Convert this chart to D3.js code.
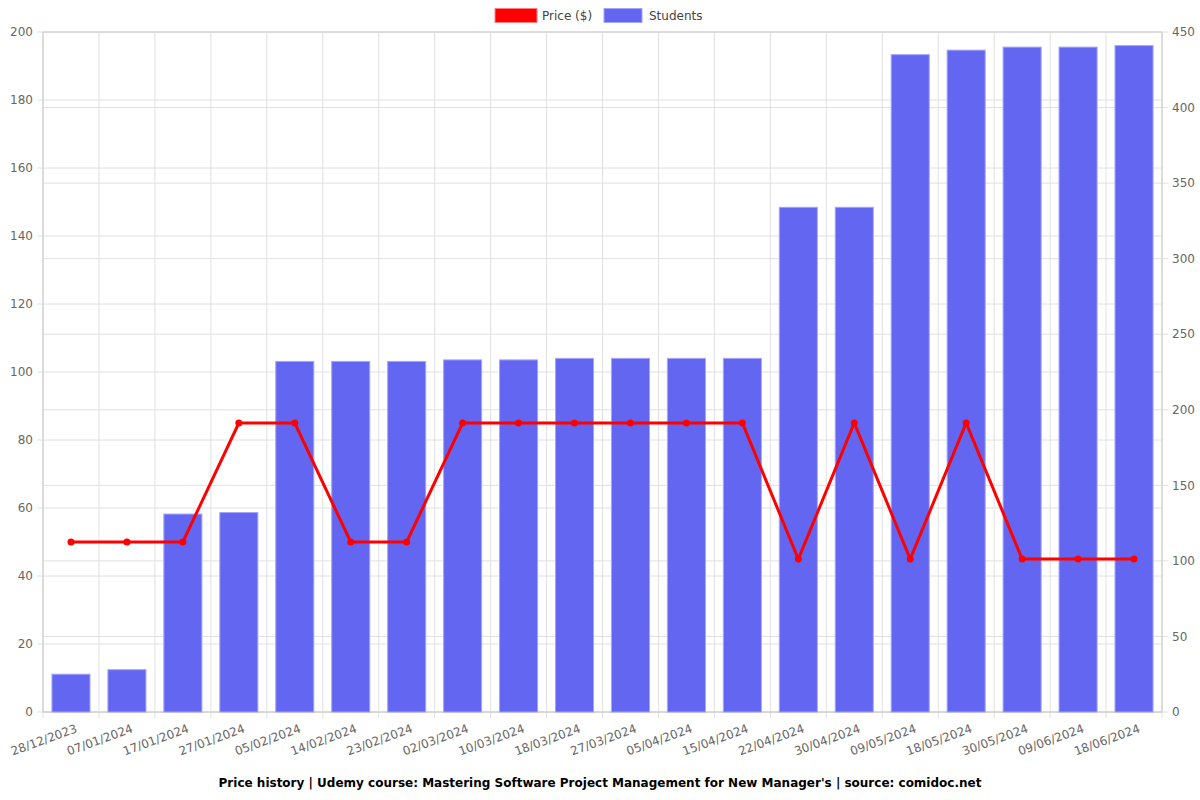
<!DOCTYPE html>
<html><head><meta charset="utf-8">
<script src="https://cdn.jsdelivr.net/npm/d3@7"></script>
<style>body{margin:0;background:#fff}svg{display:block;font-family:"DejaVu Sans",sans-serif}</style>
</head><body><svg id="c" width="1200" height="800"></svg>
<script>
const dates=["28/12/2023","07/01/2024","17/01/2024","27/01/2024","05/02/2024","14/02/2024","23/02/2024","02/03/2024","10/03/2024","18/03/2024","27/03/2024","05/04/2024","15/04/2024","22/04/2024","30/04/2024","09/05/2024","18/05/2024","30/05/2024","09/06/2024","18/06/2024"];
const price=[50,50,50,85,85,50,50,85,85,85,85,85,85,45,85,45,85,45,45,45];
const students=[25,28,131,132,232,232,232,233,233,234,234,234,234,334,334,435,438,440,440,441];
const leftTicks=[0,20,40,60,80,100,120,140,160,180,200];
const rightTicks=[0,50,100,150,200,250,300,350,400,450];
const title="Price history | Udemy course: Mastering Software Project Management for New Manager's | source: comidoc.net";

const svg=d3.select("#c");
const L=43,R=1162,T=32,B=712;
const x=d3.scaleBand().domain(dates).range([L,R]).paddingInner(0.32).paddingOuter(0.16);
const xb=d3.scaleBand().domain(dates).range([L,R]);
const yL=d3.scaleLinear().domain([0,200]).range([B,T]);
const yR=d3.scaleLinear().domain([0,450]).range([B,T]);
const grid="#e0e0e0";
const g=svg.append("g");
// vertical grid
dates.forEach((d,i)=>{g.append("line").attr("x1",xb(d)).attr("x2",xb(d)).attr("y1",T).attr("y2",B+6).attr("stroke",grid);});
g.append("line").attr("x1",R).attr("x2",R).attr("y1",T).attr("y2",B+6).attr("stroke",grid);
// horizontal grids
leftTicks.forEach(v=>g.append("line").attr("x1",L-6).attr("x2",R).attr("y1",yL(v)).attr("y2",yL(v)).attr("stroke",grid));
rightTicks.forEach(v=>g.append("line").attr("x1",L).attr("x2",R+6).attr("y1",yR(v)).attr("y2",yR(v)).attr("stroke",grid));
// axis borders
g.append("line").attr("x1",L).attr("x2",L).attr("y1",T).attr("y2",B).attr("stroke","#c8c8c8");
g.append("line").attr("x1",R).attr("x2",R).attr("y1",T).attr("y2",B).attr("stroke","#c8c8c8");
g.append("line").attr("x1",L).attr("x2",R).attr("y1",B).attr("y2",B).attr("stroke","#c8c8c8");
g.append("line").attr("x1",L).attr("x2",R).attr("y1",T).attr("y2",T).attr("stroke","#d0d0d0");
// tick labels
leftTicks.forEach(v=>svg.append("text").attr("x",L-10).attr("y",yL(v)).attr("dy","0.35em").attr("text-anchor","end").attr("font-size",12).attr("fill","#666").text(v));
rightTicks.forEach(v=>svg.append("text").attr("x",R+10).attr("y",yR(v)).attr("dy","0.35em").attr("text-anchor","start").attr("font-size",12).attr("fill","#666").text(v));
dates.forEach(d=>{const cx=xb(d)+xb.bandwidth()/2;
 svg.append("text").attr("transform",`translate(${cx+4},${B+12}) rotate(-20)`).attr("text-anchor","end").attr("dy","0.7em").attr("font-size",12).attr("fill","#666").text(d);});
// bars
svg.append("g").selectAll("rect").data(dates).join("rect")
 .attr("x",d=>x(d)).attr("width",x.bandwidth())
 .attr("y",(d,i)=>yR(students[i])).attr("height",(d,i)=>B-yR(students[i]))
 .attr("fill","#6366f1").attr("stroke","#a3a5f7").attr("stroke-width",1);
// line
const line=d3.line().x((d,i)=>xb(dates[i])+xb.bandwidth()/2).y(d=>yL(d));
svg.append("path").datum(price).attr("d",line).attr("fill","none").attr("stroke","#ff0000").attr("stroke-width",3);
svg.append("g").selectAll("circle").data(price).join("circle")
 .attr("cx",(d,i)=>xb(dates[i])+xb.bandwidth()/2).attr("cy",d=>yL(d)).attr("r",3.5).attr("fill","#ff0000");
// legend
svg.append("rect").attr("x",495).attr("y",8.5).attr("width",42).attr("height",14).attr("fill","#ff0000").attr("stroke","#ff8080");
svg.append("text").attr("x",542).attr("y",16).attr("dy","0.35em").attr("font-size",12).attr("fill","#444").text("Price ($)");
svg.append("rect").attr("x",604).attr("y",8.5).attr("width",38).attr("height",14).attr("fill","#6366f1").attr("stroke","#a3a5f7");
svg.append("text").attr("x",649).attr("y",16).attr("dy","0.35em").attr("font-size",12).attr("fill","#444").text("Students");
// title
svg.append("text").attr("x",600).attr("y",783).attr("dy","0.35em").attr("text-anchor","middle").attr("font-size",12).attr("font-weight","bold").attr("fill","#000").text(title);
</script></body></html>
